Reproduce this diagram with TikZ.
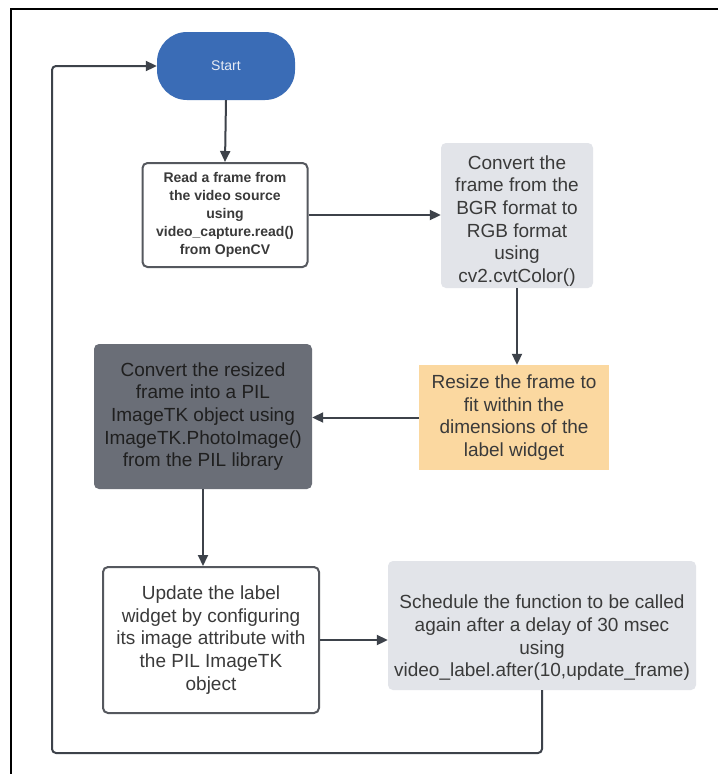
\documentclass[tikz,border=0pt]{standalone}
\usepackage{fontspec}
\setmainfont{Liberation Sans}
\usetikzlibrary{arrows.meta}
\definecolor{linec}{HTML}{3D424A}
\definecolor{startblue}{HTML}{3A6CB6}
\definecolor{starttxt}{HTML}{E6EBF4}
\definecolor{lightgray}{HTML}{E2E4E9}
\definecolor{peach}{HTML}{FBD8A0}
\definecolor{darkbox}{HTML}{6A6E77}
\definecolor{txtc}{HTML}{3A3A3A}
\definecolor{bordc}{HTML}{55585E}
\tikzset{
  base/.style={inner sep=0pt, align=center, text=txtc, font=\fontsize{19}{22.7}\selectfont},
  startn/.style={base, fill=startblue, text=starttxt, rounded corners=30pt, font=\fontsize{14}{17}\selectfont},
  whitebox/.style={base, draw=bordc, line width=2pt, fill=white, rounded corners=5pt},
  graybox/.style={base, fill=lightgray, rounded corners=5pt},
  peachbox/.style={base, fill=peach},
  darkboxs/.style={base, fill=darkbox, text=black!88, rounded corners=5pt},
  conn/.style={draw=linec, line width=2pt, -{Triangle[length=11pt,width=10pt]}},
  loopline/.style={draw=linec, line width=2pt, rounded corners=4pt, -{Triangle[length=11pt,width=10pt]}},
}
\begin{document}
\begin{tikzpicture}[x=1pt,y=-1pt]
\useasboundingbox (0,0) rectangle (718,774);
\fill[white] (0,0) rectangle (718,774);
\draw[black, line width=2.5pt] (11,774) -- (11,9) -- (718,9);

\node[startn, minimum width=138, minimum height=68] (start) at (226,66) {Start};

\node[whitebox, minimum width=165, minimum height=104, font=\bfseries\fontsize{14}{18}\selectfont] (b1) at (225,215)
  {Read a frame from\\the video source\\using\\video\_capture.read()\\from OpenCV};

\node[graybox, minimum width=152, minimum height=145] (b2) at (517,215.5) {};
\node[base] (b2t) at (517,221) {Convert the\\frame from the\\BGR format to\\RGB format\\using\\cv2.cvtColor()};

\node[peachbox, minimum width=190, minimum height=105] (b3) at (514,417.5)
  {Resize the frame to\\fit within the\\dimensions of the\\label widget};

\node[darkboxs, minimum width=218, minimum height=145] (b4) at (203,416.5)
  {Convert the resized\\frame into a PIL\\ImageTK object using\\ImageTK.PhotoImage()\\from the PIL library};

\node[whitebox, minimum width=216, minimum height=146] (b5) at (211,640)
  {Update the label\\widget by configuring\\its image attribute with\\the PIL ImageTK\\object};

\node[graybox, minimum width=308, minimum height=129] (b6) at (542,625.5) {};
\node[base] (b6t) at (542,638) {Schedule the function to be called\\again after a delay of 30 msec\\using\\video\_label.after(10,update\_frame)};

\coordinate (lr) at (542,753);
\coordinate (ll) at (52,753);
\coordinate (lt) at (52,66);

\draw[conn] (start.south) -- (b1.north);
\draw[conn] (b1.east) -- (b1.east -| b2.west);
\draw[conn] (b2.south -| 517,0) -- (517,0 |- b3.north);
\draw[conn] (b3.west) -- (b3.west -| b4.east);
\draw[conn] (b4.south) -- (b4.south |- b5.north);
\draw[conn] (b5.east) -- (b5.east -| b6.west);
\draw[loopline] (b6.south) -- (lr) -- (ll) -- (lt) -- (start.west);
\end{tikzpicture}
\end{document}
